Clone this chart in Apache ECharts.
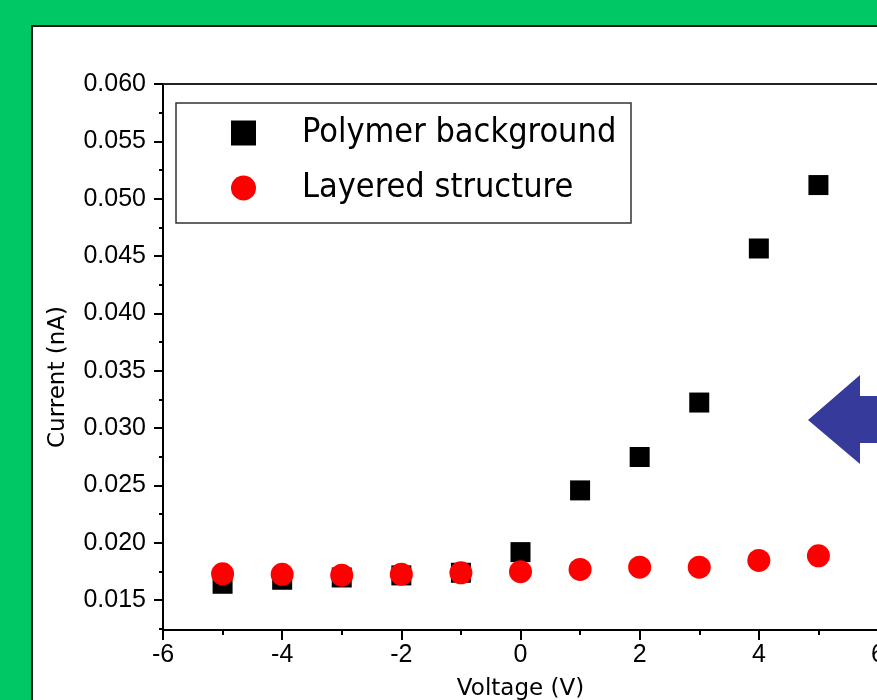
<!DOCTYPE html>
<html>
<head>
<meta charset="utf-8">
<script src="https://cdn.jsdelivr.net/npm/echarts@6/dist/echarts.min.js"></script>
<style>
html, body { margin:0; padding:0; width:877px; height:700px; overflow:hidden; background:#00c864; }
#panel { position:absolute; left:31px; top:25px; width:1000px; height:800px; background:#fff; border:2px solid #1a1a1a; }
#chart { position:absolute; left:0; top:0; width:1000px; height:700px; }
</style>
</head>
<body>
<div id="panel"></div>
<div id="chart"></div>
<script>
// ---- data ----
const voltage = [-5, -4, -3, -2, -1, 0, 1, 2, 3, 4, 5];
const polymerBackground = [0.01643, 0.01678, 0.01698, 0.01716, 0.01739, 0.01919, 0.02457, 0.02748, 0.03223, 0.04566, 0.05119];
const layeredStructure  = [0.01730, 0.01725, 0.01718, 0.01727, 0.01739, 0.01748, 0.01768, 0.01788, 0.01788, 0.01846, 0.01887];
const yTickValues = [0.015, 0.020, 0.025, 0.030, 0.035, 0.040, 0.045, 0.050, 0.055, 0.060];
const yMinorTickValues = [0.0125, 0.0175, 0.0225, 0.0275, 0.0325, 0.0375, 0.0425, 0.0475, 0.0525, 0.0575];
const seriesNames = ['Polymer background', 'Layered structure'];

const comic = '"Comic Sans MS", "DejaVu Sans", sans-serif';
const comicLegend = '"Comic Sans MS", "DejaVu Sans Condensed", sans-serif';
const arial = '"Liberation Sans", Arial, sans-serif';

const chart = echarts.init(document.getElementById('chart'), null, { renderer: 'canvas' });
const pts = arr => voltage.map((v, i) => [v, arr[i]]);

const yBase = { type:'value', min:0.0124, max:0.060, position:'left', splitLine:{show:false} };

chart.setOption({
  animation: false,
  grid: { left:163, top:84, width:715, height:546, containLabel:false, outerBoundsMode:'none' },
  xAxis: [
    { type:'value', min:-6, max:6, interval:2, position:'bottom',
      axisLine:{ show:true, onZero:false, lineStyle:{ color:'#000', width:2 } },
      axisTick:{ show:true, inside:false, length:10, lineStyle:{ color:'#000', width:2 } },
      minorTick:{ show:true, splitNumber:2, length:5, lineStyle:{ color:'#000', width:2 } },
      splitLine:{ show:false },
      axisLabel:{ color:'#000', fontFamily:arial, fontSize:25, margin:13 },
      name:'Voltage (V)', nameLocation:'middle', nameGap:48,
      nameTextStyle:{ color:'#000', fontFamily:comic, fontSize:23 } },
    { type:'value', min:-6, max:6, interval:2, position:'top',
      axisLine:{ show:true, onZero:false, lineStyle:{ color:'#222', width:2 } },
      axisTick:{ show:false }, axisLabel:{ show:false }, splitLine:{ show:false } }
  ],
  yAxis: [
    Object.assign({}, yBase, {
      axisLine:{ show:true, onZero:false, lineStyle:{ color:'#000', width:2 } },
      axisTick:{ show:true, length:9, customValues: yTickValues, lineStyle:{ color:'#000', width:2 } },
      axisLabel:{ color:'#000', fontFamily:arial, fontSize:25, margin:17,
                  customValues: yTickValues, formatter: v => v.toFixed(3) },
      name:'Current (nA)', nameLocation:'middle', nameGap:93,
      nameTextStyle:{ color:'#000', fontFamily:comic, fontSize:23, padding:[0,40,0,0] } }),
    Object.assign({}, yBase, {
      axisLine:{ show:false, onZero:false },
      axisTick:{ show:true, length:4, customValues: yMinorTickValues, lineStyle:{ color:'#000', width:2 } },
      axisLabel:{ show:false } })
  ],
  legend: {
    left:226, top:111, orient:'vertical', itemGap:21,
    itemWidth:25, itemHeight:25,
    data:[ { name:seriesNames[0], icon:'rect' }, { name:seriesNames[1], icon:'circle' } ],
    textStyle:{ color:'#000', fontFamily:comicLegend, fontSize:34, padding:[0,0,0,41], lineHeight:30 }
  },
  graphic: [
    { type:'rect', shape:{ x:176, y:103, width:455, height:120 },
      style:{ fill:'none', stroke:'#333', lineWidth:1.5 }, z:100 },
    { type:'polygon', shape:{ points:[[808,420],[860,375],[860,396],[1000,396],[1000,443],[860,443],[860,464]] },
      style:{ fill:'#363a9b' }, z:100 }
  ],
  series: [
    { name:seriesNames[0], type:'scatter', symbol:'rect', symbolSize:20,
      itemStyle:{ color:'#000', opacity:1 }, data: pts(polymerBackground), z:2 },
    { name:seriesNames[1], type:'scatter', symbol:'circle', symbolSize:23,
      itemStyle:{ color:'#ff0000', opacity:1 }, data: pts(layeredStructure), z:3 }
  ]
});
</script>
</body>
</html>
